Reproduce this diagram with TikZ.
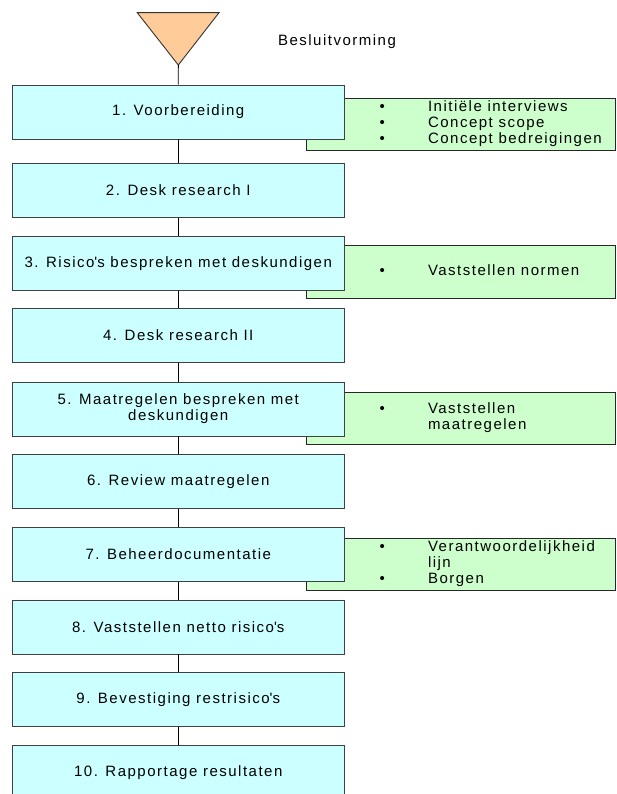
\documentclass[tikz,border=0pt]{standalone}
\usepackage{fontspec}
\setmainfont{Liberation Sans}[LetterSpace=10]
\usetikzlibrary{positioning}

\definecolor{stepcyan}{HTML}{CCFFFF}
\definecolor{notegreen}{HTML}{CCFFCC}
\definecolor{peach}{HTML}{FFCC99}

\tikzset{
  stepbox/.style={draw=black!75, line width=0.9pt, fill=stepcyan, minimum width=332.5pt, minimum height=54pt, align=center, inner sep=0pt},
  notebox/.style={draw=black!85, line width=0.9pt, fill=notegreen, minimum width=309.5pt, minimum height=52.5pt, inner sep=0pt},
  notetext/.style={inner sep=0pt, anchor=west},
}
\newcommand{\notelist}[1]{\begin{tabular}{@{}p{48.5pt}@{}l@{}}#1\end{tabular}}

\begin{document}
\begin{tikzpicture}[x=1pt,y=-1pt,font=\fontsize{15}{16}\selectfont,text=black,line width=0.9pt]
        \useasboundingbox (0,0) rectangle (616,794);
        \clip (0,0) rectangle (616,794);
        % decision triangle
        \coordinate(apex) at (178.3,65);
        \draw[draw=black!80, fill=peach] (137.3,12.7) -- (219,12.7) -- (apex) -- cycle;
        \node(title) at (337,41.7) {Besluitvorming};
        % green notes behind the steps
        \node[notebox](n1) at (460.75,124.3) {};
        \node[notebox](n3) at (460.75,271.8) {};
        \node[notebox](n5) at (460.75,418.3) {};
        \node[notebox](n7) at (460.75,564.3) {};
        \node[notetext, right=73.5pt of n1.west] {\notelist{\textbullet & Initiële interviews\\ \textbullet & Concept scope\\ \textbullet & Concept bedreigingen}};
        \node[notetext, right=73.5pt of n3.west] {\notelist{\textbullet & Vaststellen normen}};
        \node[notetext, right=73.5pt of n5.west] {\notelist{\textbullet & Vaststellen\\ & maatregelen}};
        \node[notetext, right=73.5pt of n7.west] {\notelist{\textbullet & Verantwoordelijkheid\\ & lijn\\ \textbullet & Borgen}};
        % steps
        \node[stepbox](s1) at (178.25,112) {1. Voorbereiding};
        \node[stepbox](s2) at (178.25,190.3) {2. Desk research I};
        \node[stepbox](s3) at (178.25,263.3) {3. Risico\textquotesingle s bespreken met deskundigen};
        \node[stepbox](s4) at (178.25,335.3) {4. Desk research II};
        \node[stepbox](s5) at (178.25,409) {5. Maatregelen bespreken met\\deskundigen};
        \node[stepbox](s6) at (178.25,481.3) {6. Review maatregelen};
        \node[stepbox](s7) at (178.25,554.3) {7. Beheerdocumentatie};
        \node[stepbox](s8) at (178.25,627) {8. Vaststellen netto risico\textquotesingle s};
        \node[stepbox](s9) at (178.25,699.3) {9. Bevestiging restrisico\textquotesingle s};
        \node[stepbox](s10) at (178.25,772.7) {10. Rapportage resultaten};
        \draw(apex)--(s1);
        \draw(s1)--(s2);
        \draw(s2)--(s3);
        \draw(s3)--(s4);
        \draw(s4)--(s5);
        \draw(s5)--(s6);
        \draw(s6)--(s7);
        \draw(s7)--(s8);
        \draw(s8)--(s9);
        \draw(s9)--(s10);
\end{tikzpicture}
\end{document}
